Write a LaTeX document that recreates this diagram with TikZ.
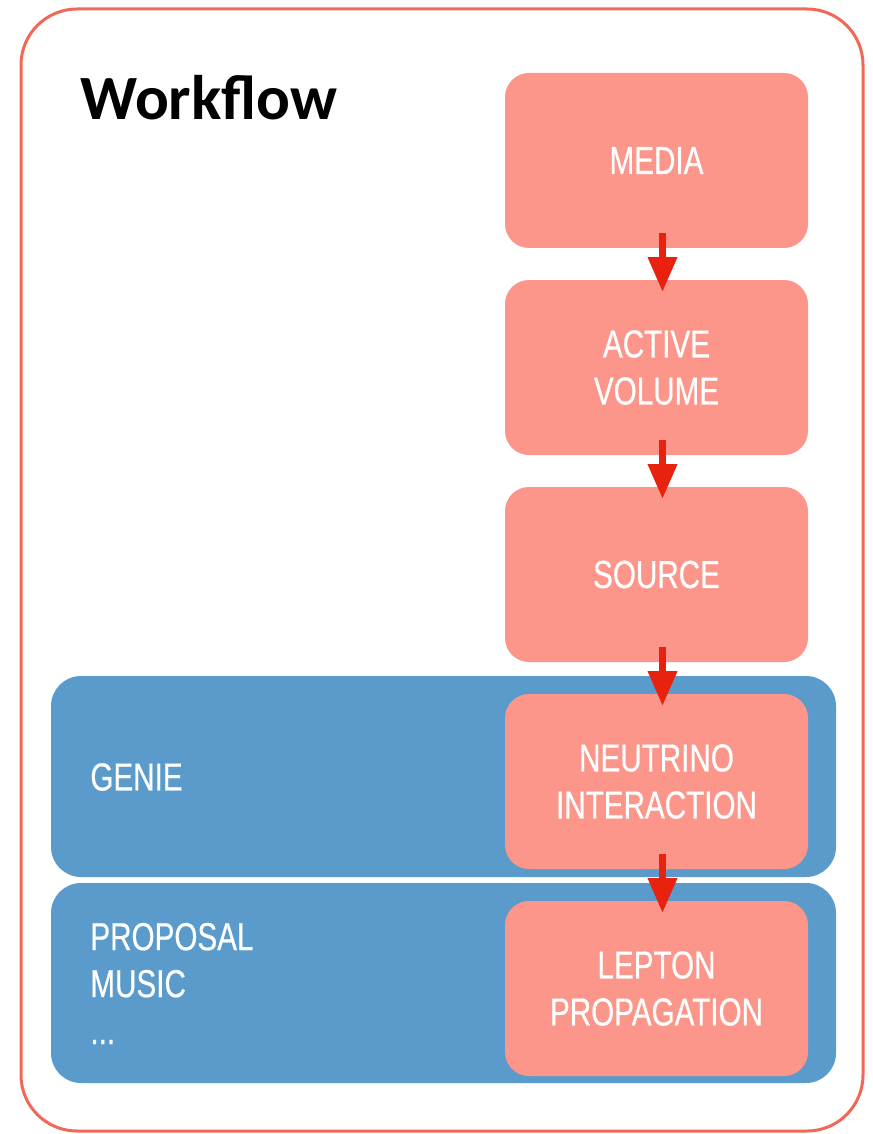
\documentclass[tikz,border=0pt]{standalone}
\usepackage{fontspec}
\setmainfont{Liberation Sans}
\newfontfamily\boxfont{Liberation Sans}[FakeStretch=0.76,FakeBold=0.5]
\newfontfamily\headfont{Carlito}
\usetikzlibrary{positioning,arrows.meta}

\definecolor{framered}{RGB}{242,104,88}
\definecolor{stepred}{RGB}{252,150,138}
\definecolor{toolblue}{RGB}{90,155,203}
\definecolor{arrowred}{RGB}{232,34,14}

\begin{document}
\begin{tikzpicture}[x=0.5pt,y=-0.5pt,
    stepbox/.style={fill=stepred, rounded corners=12pt, minimum width=151.5pt,
        minimum height=87.5pt, inner sep=0pt, outer sep=0pt, align=center, text=white,
        font=\boxfont\fontsize{19.5}{23.5}\selectfont},
    toolbox/.style={fill=toolblue, rounded corners=15pt, minimum width=392.5pt, inner sep=0pt},
    toollabel/.style={anchor=west, inner sep=0pt, align=left, text=white,
        font=\boxfont\fontsize{19.5}{23.5}\selectfont},
    flow/.style={-{Triangle[length=17.5pt,width=14pt]}, line width=3.5pt, arrowred},
    node distance=16pt]
\useasboundingbox (0,0) rectangle (872,1134);

% frame and title
\draw[framered, line width=1.5pt, rounded corners=28pt] (21,9) rectangle (863,1131);
\node (title) [anchor=base west, inner sep=0pt] at (80,120)
    {\headfont\bfseries\fontsize{31.5}{36}\selectfont Workflow};

% tools
\node (genie) [toolbox, minimum height=100.5pt] at (443.5,776.5) {};
\node (propagators) [toolbox, minimum height=100pt] at (443.5,983) {};
\node (genielabel) [toollabel] at (90,777) {GENIE};
\node (proplabel) [toollabel] at (90,983.5) {PROPOSAL\\MUSIC\\...};

% steps
\node (media) [stepbox] at (656.5,160.5) {MEDIA};
\node (active) [stepbox, below=of media] {ACTIVE\\VOLUME};
\node (source) [stepbox, below=of active] {SOURCE};
\node (neutrino) [stepbox, below=of source] {NEUTRINO\\INTERACTION};
\node (lepton) [stepbox, below=of neutrino] {LEPTON\\PROPAGATION};

\foreach \a/\b in {media/active, active/source, source/neutrino, neutrino/lepton}
    \draw[flow] ([xshift=3pt,yshift=7.5pt]\a.south) -- ([xshift=3pt,yshift=-6pt]\b.north);

\end{tikzpicture}
\end{document}
